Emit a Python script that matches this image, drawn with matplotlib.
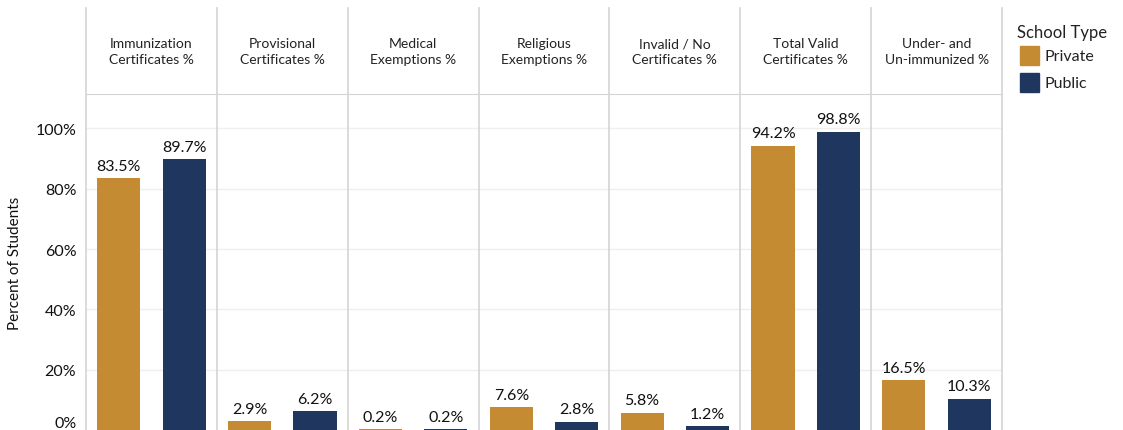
import numpy as np
import matplotlib
matplotlib.use('Agg')
import matplotlib.pyplot as plt
from matplotlib.patches import Rectangle

plt.rcParams['font.family'] = ['Lato', 'DejaVu Sans']

## data
measures = ['Immunization\nCertificates %', 'Provisional\nCertificates %', 'Medical\nExemptions %',
            'Religious\nExemptions %', 'Invalid / No\nCertificates %', 'Total Valid\nCertificates %',
            'Under- and\nUn-immunized %']
private = [83.5, 2.9, 0.2, 7.6, 5.8, 94.2, 16.5]
public = [89.7, 6.2, 0.2, 2.8, 1.2, 98.8, 10.3]
school_types = ['Private', 'Public']
colors = ['#C48B33', '#1F365E']
yticks = [0, 20, 40, 60, 80, 100]

W, H = 1123, 431
fig = plt.figure(figsize=(W / 100, H / 100), dpi=100)
left, right, top = 86 / W, 1002 / W, 1 - 95 / H
ax = fig.add_axes([left, 0, right - left, top])

n = len(measures)
x = np.arange(n) * 2
grid_c = '#d4d4d4'

for i, (vals, c) in enumerate(zip([private, public], colors)):
    xs = x + 0.5 + i
    ax.bar(xs, vals, width=0.66, color=c, zorder=3)
    for xx, v in zip(xs, vals):
        ax.annotate(f'{v:.1f}%', (xx, v), xytext=(0, 4), textcoords='offset points',
                    ha='center', va='bottom', fontsize=11.5, color='#111111')

ax.set_xlim(0, 2 * n)
ax.set_ylim(0, 111.4)
ax.set_xticks([])
ax.set_yticks(yticks)
ax.set_yticklabels([f'{t}%' for t in yticks], fontsize=11.5, color='#111111')
ax.get_yticklabels()[0].set_va('bottom')
ax.tick_params(axis='y', length=0, pad=7)
for t in yticks[1:]:
    ax.axhline(t, color='#efefef', lw=1, zorder=0)

for s in ['left', 'right', 'bottom']:
    ax.spines[s].set_visible(False)
ax.spines['top'].set_color(grid_c)

# panel separators running up into the header
yext = (H - 9) / (H - 95)
for xv in np.arange(n + 1) * 2:
    ax.axvline(xv, ymin=0, ymax=yext, color=grid_c, lw=1.2, clip_on=False, zorder=1)

ytxt = (H - 52) / (H - 95)
trans = ax.get_xaxis_transform()
for xx, m in zip(x + 1, measures):
    ax.text(xx, ytxt, m, transform=trans, ha='center', va='center',
            fontsize=10, color='#222222', linespacing=1.3)

ax.set_ylabel('Percent of Students', fontsize=11, color='#111111', labelpad=10)

# legend
fig.text(1017 / W, 1 - 33 / H, 'School Type', fontsize=12, va='center', ha='left', color='#222222')
for k, (lab, c) in enumerate(zip(school_types, colors)):
    y0 = 47 + 27 * k
    fig.patches.append(Rectangle((1020 / W, 1 - (y0 + 19) / H), 19 / W, 19 / H,
                                 transform=fig.transFigure, color=c))
    fig.text(1045 / W, 1 - (y0 + 10) / H, lab, fontsize=11.5, va='center', ha='left', color='#222222')

plt.savefig('out.png', dpi=100)
